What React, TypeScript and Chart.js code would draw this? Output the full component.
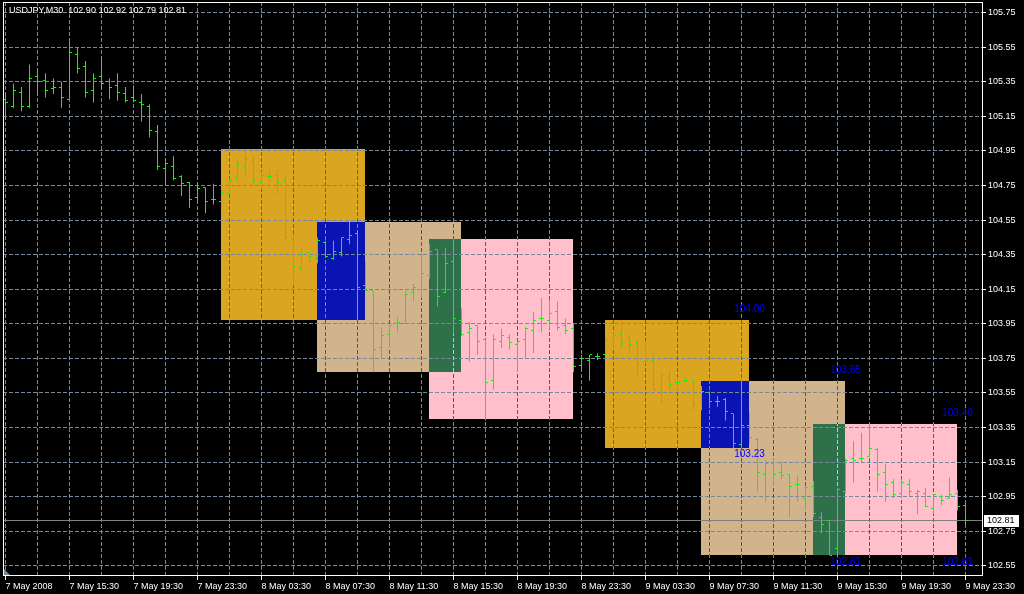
import { useEffect, useRef } from "react";
import { Chart, registerables } from "chart.js";

Chart.register(...registerables);

// ---------- data ----------
const symbolName = "USDJPY,M30";

// one label every 8 bars (4 hours), first bar = 7 May 2008 11:30
const timeLabels = [
  "7 May 2008", "7 May 15:30", "7 May 19:30", "7 May 23:30",
  "8 May 03:30", "8 May 07:30", "8 May 11:30", "8 May 15:30",
  "8 May 19:30", "8 May 23:30", "9 May 03:30", "9 May 07:30",
  "9 May 11:30", "9 May 15:30", "9 May 19:30", "9 May 23:30",
];

const yTickLabels = [
  "102.55", "102.75", "102.95", "103.15", "103.35", "103.55", "103.75", "103.95",
  "104.15", "104.35", "104.55", "104.75", "104.95", "105.15", "105.35", "105.55", "105.75",
];

const opens = [
  105.25, 105.21, 105.29, 105.21, 105.38, 105.36, 105.31, 105.32, 105.25, 105.51,
  105.44, 105.30, 105.38, 105.35, 105.33, 105.28, 105.26, 105.23, 105.21, 105.06,
  104.85, 104.86, 104.80, 104.77, 104.68, 104.74, 104.67, 104.66, 104.70, 104.79,
  104.86, 104.89, 104.77, 104.80, 104.81, 104.78, 104.44, 104.27, 104.36, 104.33,
  104.42, 104.33, 104.36, 104.44, 104.47, 104.17, 104.14, 103.81, 103.89, 103.95,
  103.95, 104.13, 104.15, 104.23, 104.38, 104.13, 104.31, 103.97, 103.90, 103.94,
  103.86, 103.62, 103.85, 103.87, 103.83, 103.86, 103.91, 103.98, 103.97, 104.02,
  103.94, 103.92, 103.71, 103.74, 103.76, 103.77, 103.85, 103.89, 103.87, 103.84,
  103.73, 103.74, 103.57, 103.64, 103.61, 103.62, 103.62, 103.50, 103.55, 103.50,
  103.51, 103.43, 103.25, 103.36, 103.28, 103.08, 103.14, 103.09, 103.08, 103.02,
  102.94, 103.01, 102.83, 102.81, 102.65, 102.98, 103.17, 103.17, 103.18, 103.22,
  103.09, 103.03, 102.97, 103.02, 102.97, 102.97, 102.88, 102.95, 102.94, 102.97,
  102.90,
];
const highs = [
  105.29, 105.34, 105.32, 105.45, 105.43, 105.40, 105.37, 105.35, 105.58, 105.55,
  105.47, 105.40, 105.50, 105.37, 105.40, 105.32, 105.33, 105.28, 105.22, 105.10,
  104.91, 104.92, 104.81, 104.77, 104.76, 104.74, 104.76, 104.73, 104.79, 104.90,
  104.96, 104.92, 104.83, 104.84, 104.84, 104.81, 104.47, 104.39, 104.36, 104.45,
  104.43, 104.43, 104.45, 104.54, 104.49, 104.31, 104.14, 103.93, 103.94, 103.99,
  104.14, 104.18, 104.35, 104.41, 104.38, 104.39, 104.44, 104.04, 103.96, 103.94,
  103.86, 103.89, 103.92, 103.89, 103.85, 103.93, 104.02, 104.10, 104.09, 104.08,
  103.98, 103.95, 103.77, 103.77, 103.78, 103.87, 103.90, 103.97, 103.89, 103.85,
  103.85, 103.78, 103.67, 103.68, 103.64, 103.64, 103.62, 103.59, 103.56, 103.53,
  103.52, 103.43, 103.62, 103.44, 103.29, 103.16, 103.17, 103.15, 103.08, 103.07,
  103.01, 103.04, 102.86, 102.81, 103.00, 103.17, 103.27, 103.32, 103.38, 103.23,
  103.14, 103.05, 103.05, 103.05, 102.99, 103.00, 102.96, 102.96, 103.06, 102.99,
  102.92,
];
const lows = [
  105.13, 105.20, 105.18, 105.20, 105.27, 105.26, 105.28, 105.20, 105.25, 105.40,
  105.26, 105.23, 105.31, 105.25, 105.24, 105.23, 105.23, 105.12, 105.03, 104.84,
  104.75, 104.78, 104.69, 104.62, 104.65, 104.59, 104.64, 104.61, 104.70, 104.77,
  104.80, 104.75, 104.73, 104.77, 104.70, 104.43, 104.17, 104.26, 104.30, 104.30,
  104.33, 104.32, 104.34, 104.41, 103.97, 104.14, 103.67, 103.75, 103.81, 103.90,
  103.95, 104.08, 104.10, 104.21, 104.05, 104.13, 103.89, 103.88, 103.73, 103.77,
  103.39, 103.57, 103.81, 103.80, 103.67, 103.75, 103.78, 103.90, 103.92, 103.91,
  103.89, 103.67, 103.68, 103.62, 103.74, 103.77, 103.81, 103.81, 103.78, 103.64,
  103.72, 103.57, 103.49, 103.57, 103.57, 103.61, 103.45, 103.45, 103.46, 103.47,
  103.39, 103.23, 103.24, 103.26, 102.98, 102.92, 103.01, 103.05, 102.83, 102.92,
  102.87, 102.83, 102.74, 102.61, 102.60, 102.97, 103.03, 103.15, 103.18, 102.98,
  102.92, 102.94, 102.94, 102.95, 102.85, 102.89, 102.85, 102.90, 102.94, 102.87,
  102.79,
];
const closes = [
  105.23, 105.30, 105.21, 105.37, 105.35, 105.30, 105.32, 105.26, 105.52, 105.43,
  105.29, 105.37, 105.34, 105.32, 105.29, 105.24, 105.24, 105.22, 105.07, 104.86,
  104.88, 104.79, 104.76, 104.67, 104.73, 104.66, 104.67, 104.71, 104.78, 104.87,
  104.90, 104.78, 104.81, 104.80, 104.77, 104.45, 104.28, 104.35, 104.34, 104.43,
  104.34, 104.37, 104.45, 104.46, 104.16, 104.14, 103.80, 103.88, 103.94, 103.96,
  104.12, 104.16, 104.24, 104.37, 104.11, 104.30, 103.98, 103.89, 103.92, 103.85,
  103.61, 103.86, 103.88, 103.84, 103.85, 103.92, 103.97, 103.98, 104.01, 103.93,
  103.91, 103.70, 103.75, 103.77, 103.76, 103.86, 103.88, 103.84, 103.83, 103.72,
  103.73, 103.57, 103.65, 103.60, 103.61, 103.62, 103.49, 103.56, 103.50, 103.50,
  103.44, 103.26, 103.36, 103.29, 103.09, 103.14, 103.08, 103.07, 103.01, 103.02,
  103.00, 102.85, 102.79, 102.61, 102.99, 103.16, 103.16, 103.17, 103.23, 103.08,
  103.02, 102.96, 103.03, 102.98, 102.98, 102.89, 102.96, 102.93, 102.96, 102.89,
  102.81,
];

// session boxes (bar index from/to, price high/low), in drawing order
const boxSession = [
  "asia", "europe", "america", "asiaEurope", "europeAmerica",
  "asia", "europe", "america", "asiaEurope", "europeAmerica",
];
const boxFrom = [27, 39, 53, 39, 53, 75, 87, 101, 87, 101];
const boxTo = [45, 57, 71, 45, 57, 93, 105, 119, 93, 105];
const boxHigh = [104.96, 104.54, 104.44, 104.54, 104.44, 103.97, 103.62, 103.37, 103.62, 103.37];
const boxLow = [103.97, 103.67, 103.40, 103.97, 103.67, 103.23, 102.61, 102.61, 103.23, 102.61];
const boxHighText = ["", "", "", "", "", "104.00", "103.65", "103.40", "", ""];
const boxLowText = ["", "", "", "", "", "103.23", "102.61", "102.61", "", ""];

// ---------- styles ----------
const SESSION_RGB: Record<string, [number, number, number]> = {
  asia: [218, 165, 32],
  europe: [210, 180, 140],
  america: [255, 192, 203],
  asiaEurope: [10, 20, 178],
  europeAmerica: [46, 112, 74],
};
const GRID_RGB: [number, number, number] = [119, 136, 153];
const GRID = `rgb(${GRID_RGB.join(",")})`;
const GRID_DASH = [4, 2];
const BAR = "#00ff00";
const AXIS_FONT = '"Liberation Sans"';
const AXIS_SIZE = 9;

const rgb = (c: number[]) => `rgb(${c[0]},${c[1]},${c[2]})`;

export default function App() {
  const ref = useRef<HTMLCanvasElement>(null);

  useEffect(() => {
    document.body.style.margin = "0";
    document.body.style.background = "#000";
    const canvas = ref.current!;
    const idx = closes.map((_, i) => i);
    const lastIdx = closes.length - 1;
    const gridIdx: number[] = [];
    for (let v = 0; v <= lastIdx; v += 4) gridIdx.push(v);

    const mkTick = (side: "open" | "close") => {
      const c = document.createElement("canvas");
      c.width = 5;
      c.height = 1;
      const g = c.getContext("2d")!;
      g.fillStyle = BAR;
      g.fillRect(side === "open" ? 0 : 3, 0, 2, 1);
      return c;
    };
    const openImg = mkTick("open");
    const closeImg = mkTick("close");

    const boxRect = (chart: any, i: number) => {
      const xs = chart.scales.x;
      const ys = chart.scales.y;
      const l = Math.floor(xs.getPixelForValue(boxFrom[i]));
      const r = Math.floor(xs.getPixelForValue(boxTo[i]));
      const t = Math.round(ys.getPixelForValue(boxHigh[i]));
      const b = Math.round(ys.getPixelForValue(boxLow[i]));
      return { l, r, t, b };
    };

    const mtPlugin = {
      id: "mtChart",
      beforeDraw(chart: any) {
        const ctx = chart.ctx;
        ctx.save();
        ctx.fillStyle = "#000";
        ctx.fillRect(0, 0, chart.width, chart.height);
        boxSession.forEach((s, i) => {
          const { l, r, t, b } = boxRect(chart, i);
          ctx.fillStyle = rgb(SESSION_RGB[s]);
          ctx.fillRect(l, t, r - l, b - t);
        });
        ctx.restore();
      },
      beforeDatasetsDraw(chart: any) {
        const ctx = chart.ctx;
        const xs = chart.scales.x;
        const ys = chart.scales.y;
        const { top, bottom, left, right } = chart.chartArea;
        ctx.save();
        // grid lines seen through the session boxes (xor-coloured)
        boxSession.forEach((s, i) => {
          const { l, r, t, b } = boxRect(chart, i);
          const c = SESSION_RGB[s].map((v, k) => v ^ GRID_RGB[k]);
          ctx.save();
          ctx.beginPath();
          ctx.rect(l, t, r - l, b - t);
          ctx.clip();
          ctx.strokeStyle = rgb(c);
          ctx.lineWidth = 1;
          ctx.setLineDash(GRID_DASH);
          ctx.beginPath();
          gridIdx.forEach((v) => {
            const px = Math.round(xs.getPixelForValue(v) - 0.5) + 0.5;
            if (px > l && px < r) {
              ctx.moveTo(px, top);
              ctx.lineTo(px, bottom);
            }
          });
          ctx.stroke();
          ctx.restore();
        });
        // bid line
        const yb = Math.round(ys.getPixelForValue(closes[lastIdx]) - 0.5) + 0.5;
        ctx.strokeStyle = "#808080";
        ctx.lineWidth = 1;
        ctx.setLineDash([]);
        ctx.beginPath();
        ctx.moveTo(left, yb);
        ctx.lineTo(right, yb);
        ctx.stroke();
        ctx.restore();
        ctx.imageSmoothingEnabled = false;
      },
      afterDraw(chart: any) {
        const ctx = chart.ctx;
        const xs = chart.scales.x;
        const ys = chart.scales.y;
        const { top, bottom, left, right } = chart.chartArea;
        ctx.save();
        // frame
        ctx.strokeStyle = "#ffffff";
        ctx.lineWidth = 1;
        ctx.strokeRect(left + 0.5, top + 0.5, right - left - 1, bottom - top - 1);
        // scroll marker
        ctx.fillStyle = GRID;
        ctx.beginPath();
        ctx.moveTo(left + 1, bottom - 7);
        ctx.lineTo(left + 1, bottom - 1);
        ctx.lineTo(left + 7, bottom - 1);
        ctx.closePath();
        ctx.fill();
        // title
        const f2 = (v: number) => v.toFixed(2);
        ctx.font = `${AXIS_SIZE}px ${AXIS_FONT}`;
        ctx.fillStyle = "#ffffff";
        ctx.textAlign = "left";
        ctx.textBaseline = "middle";
        ctx.fillText(
          `${symbolName}  ${f2(opens[lastIdx])} ${f2(highs[lastIdx])} ${f2(lows[lastIdx])} ${f2(closes[lastIdx])}`,
          9,
          11
        );
        // box price labels
        ctx.font = '10px "Liberation Sans"';
        ctx.fillStyle = "#0000ff";
        ctx.textAlign = "center";
        boxSession.forEach((_, i) => {
          const x = xs.getPixelForValue(boxTo[i]);
          if (boxHighText[i]) ctx.fillText(boxHighText[i], x, ys.getPixelForValue(boxHigh[i]) - 11);
          if (boxLowText[i]) ctx.fillText(boxLowText[i], x, ys.getPixelForValue(boxLow[i]) + 6.5);
        });
        // bid label on axis
        const yb = Math.round(ys.getPixelForValue(closes[lastIdx]));
        ctx.fillStyle = "#ffffff";
        ctx.fillRect(right + 1, yb - 6, 35, 12);
        ctx.fillStyle = "#000000";
        ctx.font = `${AXIS_SIZE}px ${AXIS_FONT}`;
        ctx.textAlign = "left";
        ctx.fillText(f2(closes[lastIdx]), right + 4, yb);
        ctx.restore();
      },
    };

    const chart = new Chart(canvas, {
      type: "bar",
      data: {
        datasets: [
          {
            type: "bar",
            data: idx.map((i) => ({ x: i, y: [lows[i], highs[i]] })),
            backgroundColor: BAR,
            borderWidth: 0,
            barThickness: 1,
            inflateAmount: 0,
          } as any,
          {
            type: "scatter",
            data: idx.map((i) => ({ x: i, y: opens[i] })),
            pointStyle: openImg,
            pointRadius: 2,
          } as any,
          {
            type: "scatter",
            data: idx.map((i) => ({ x: i, y: closes[i] })),
            pointStyle: closeImg,
            pointRadius: 2,
          } as any,
        ],
      },
      options: {
        animation: false,
        responsive: false,
        devicePixelRatio: 1,
        events: [],
        layout: { padding: { left: 3, top: 2, right: 0, bottom: 0 }, autoPadding: false } as any,
        plugins: { legend: { display: false }, tooltip: { enabled: false } },
        scales: {
          x: {
            type: "linear",
            position: "bottom",
            min: -0.3125,
            max: 122.1875,
            offset: false,
            bounds: "data",
            afterBuildTicks: (s: any) => {
              s.ticks = gridIdx.map((v) => ({ value: v }));
            },
            afterFit: (s: any) => {
              s.height = 18;
              s.paddingLeft = 0;
              s.paddingRight = 0;
            },
            grid: {
              color: GRID,
              lineWidth: 1,
              offset: false,
              drawTicks: true,
              tickLength: 4,
              tickWidth: 1,
              tickColor: (c: any) => (c.index % 2 === 0 ? "#ffffff" : "rgba(0,0,0,0)"),
            },
            border: { display: false, dash: GRID_DASH },
            ticks: {
              color: "#ffffff",
              font: { family: AXIS_FONT, size: AXIS_SIZE },
              align: "start",
              padding: 1,
              autoSkip: false,
              maxRotation: 0,
              minRotation: 0,
              callback: (v: any) => (Number(v) % 8 === 0 ? timeLabels[Number(v) / 8] : ""),
            },
          } as any,
          y: {
            type: "linear",
            position: "right",
            min: 102.4905,
            max: 105.8121,
            bounds: "data",
            afterBuildTicks: (s: any) => {
              s.ticks = yTickLabels.map((t) => ({ value: parseFloat(t) }));
            },
            afterFit: (s: any) => {
              s.width = 41;
              s.paddingTop = 0;
              s.paddingBottom = 0;
            },
            grid: {
              color: GRID,
              lineWidth: 1,
              drawTicks: true,
              tickLength: 3,
              tickWidth: 1,
              tickColor: "#ffffff",
            },
            border: { display: false, dash: GRID_DASH },
            ticks: {
              color: "#ffffff",
              font: { family: AXIS_FONT, size: AXIS_SIZE },
              padding: 2,
              autoSkip: false,
              callback: (_v: any, i: number) => yTickLabels[i],
            },
          } as any,
        },
      },
      plugins: [mtPlugin],
    });

    return () => chart.destroy();
  }, []);

  return <canvas ref={ref} width={1024} height={594} style={{ display: "block" }} />;
}
